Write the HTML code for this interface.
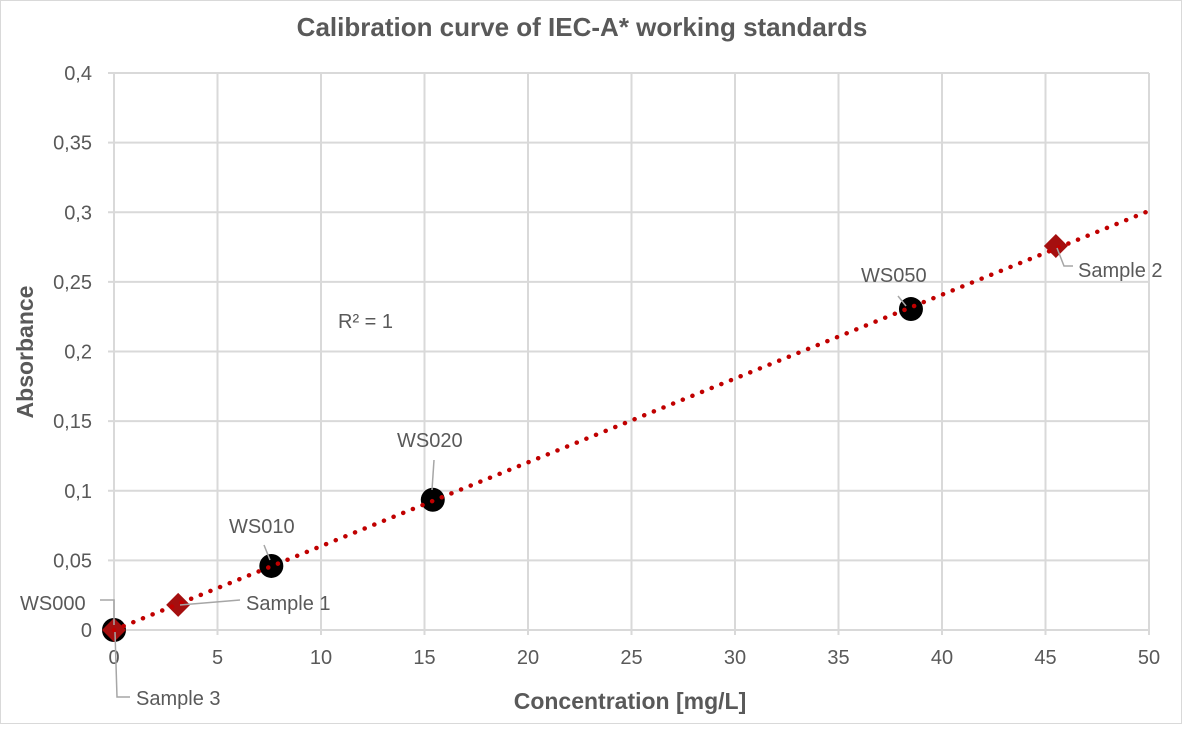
<!DOCTYPE html>
<html><head><meta charset="utf-8"><style>
body{margin:0;background:#fff;}
svg text{font-family:"Liberation Sans",sans-serif;fill:#595959;}
</style></head><body>
<svg id="c" width="1182" height="724" xmlns="http://www.w3.org/2000/svg">
<rect x="0.5" y="0.5" width="1181" height="723" fill="#fff" stroke="#d9d9d9"/>
<text x="582" y="36" text-anchor="middle" font-size="26" font-weight="bold">Calibration curve of IEC-A* working standards</text>
<g id="grid"></g><g id="marks"></g>
<text x="630" y="709" text-anchor="middle" font-size="23" font-weight="bold">Concentration [mg/L]</text>
<text transform="translate(33,352) rotate(-90)" text-anchor="middle" font-size="23" font-weight="bold">Absorbance</text>
<text x="338" y="328" font-size="20">R² = 1</text>
</svg>
<script>
const xTicks=[0,5,10,15,20,25,30,35,40,45,50];
const yTicks=[0,0.05,0.1,0.15,0.2,0.25,0.3,0.35,0.4];
const stdNames=["WS000","WS010","WS020","WS050"];
const stdX=[0,7.6,15.4,38.5];
const stdY=[0,0.046,0.0935,0.2305];
const sampleNames=["Sample 1","Sample 2","Sample 3"];
const sampleX=[3.1,45.5,0];
const sampleY=[0.018,0.2758,0];
const trendSlope=0.00602;
const NS="http://www.w3.org/2000/svg";
const X=v=>114+v*(1149-114)/50, Y=v=>630-v*(630-73)/0.4;
function mk(tag,attrs,parent){const e=document.createElementNS(NS,tag);for(const k in attrs)e.setAttribute(k,attrs[k]);parent.appendChild(e);return e;}
const g=document.getElementById('grid'),m=document.getElementById('marks');
xTicks.forEach(t=>{const l=mk('line',{x1:X(t),x2:X(t),y1:Y(0.4),y2:Y(0)+5,stroke:'#d9d9d9','stroke-width':2},g);

const tx=mk('text',{x:X(t),y:664,'text-anchor':'middle','font-size':20},g);tx.textContent=t;
});
yTicks.forEach(t=>{const l=mk('line',{x1:X(0)-6,x2:X(50),y1:Y(t),y2:Y(t),stroke:'#d9d9d9','stroke-width':2},g);

const tx=mk('text',{x:92,y:Y(t)+7,'text-anchor':'end','font-size':20},g);tx.textContent=String(t).replace('.',',');
});
const tl=mk('line',{x1:X(0),y1:Y(0),x2:X(50),y2:Y(50*trendSlope),stroke:'#c00000','stroke-width':4.5,'stroke-dasharray':'0.1 10.3','stroke-linecap':'round'},m);
stdX.forEach((v,i)=>{const c=mk('circle',{cx:X(v),cy:Y(stdY[i]),r:12,fill:'#000'},m);
});
sampleX.forEach((v,i)=>{const x=X(v),y=Y(sampleY[i]);const p=mk('polygon',{points:`${x},${y-12} ${x+12},${y} ${x},${y+12} ${x-12},${y}`,fill:'#a50f0f'},m);
});
m.appendChild(tl);


const stdLab=[[20,610,'start',[[100,600],[114,600],[114,625]]],[229,533,'start',[[264,545],[270,560]]],[397,447,'start',[[434,460],[432,490]]],[861,282,'start',[[898,296],[906,306]]]];
stdLab.forEach((s,i)=>{const t=mk('text',{x:s[0],y:s[1],'font-size':20},m);t.textContent=stdNames[i];

mk('polyline',{points:s[3].map(p=>p.join(',')).join(' '),fill:'none',stroke:'#a6a6a6','stroke-width':1.5},m);});
const smpLab=[[246,610,[[180,605],[240,600]]],[1078,277,[[1057,248],[1064,266],[1073,266]]],[136,705,[[115,632],[117,697],[130,697]]]];
smpLab.forEach((s,i)=>{const t=mk('text',{x:s[0],y:s[1],'font-size':20},m);t.textContent=sampleNames[i];

mk('polyline',{points:s[2].map(p=>p.join(',')).join(' '),fill:'none',stroke:'#a6a6a6','stroke-width':1.5},m);});
</script>
</body></html>
